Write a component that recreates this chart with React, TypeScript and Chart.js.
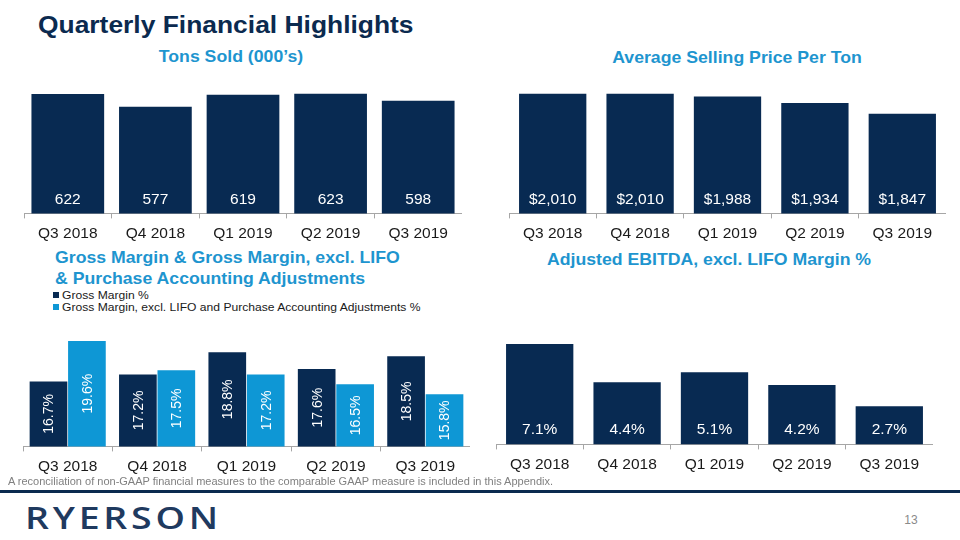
import React, { useEffect, useRef } from "react";
import { Chart, registerables } from "chart.js";

Chart.register(...registerables);

// ---- data ----
const quarters = ["Q3 2018", "Q4 2018", "Q1 2019", "Q2 2019", "Q3 2019"];
const tonsSold = [622, 577, 619, 623, 598];
const avgPrice = [2010, 2010, 1988, 1934, 1847];
const grossMargin = [16.7, 17.2, 18.8, 17.6, 18.5];
const grossMarginExcl = [19.6, 17.5, 17.2, 16.5, 15.8];
const ebitdaMargin = [7.1, 4.4, 5.1, 4.2, 2.7];

const NAVY = "#082a52";
const LIGHT = "#0e97d5";
const TITLE_BLUE = "#1e95cf";
const AXIS_GRAY = "#a6a6a6";
const FONT = "'Liberation Sans', Arial, sans-serif";

const valueLabels = {
  id: "valueLabels",
  afterDatasetsDraw(chart: any, _args: any, opts: any) {
    const ctx = chart.ctx;
    const bottom = chart.chartArea.bottom;
    ctx.save();
    chart.data.datasets.forEach((ds: any, di: number) => {
      const meta = chart.getDatasetMeta(di);
      meta.data.forEach((bar: any, i: number) => {
        const v = ds.data[i];
        const text = opts.format(v);
        const base = Math.min(bar.base, bottom);
        ctx.fillStyle = "#ffffff";
        ctx.font = `${opts.size}px ${FONT}`;
        ctx.textAlign = "center";
        ctx.textBaseline = "middle";
        if (opts.rotate) {
          const cy = (bar.y + base) / 2;
          ctx.save();
          ctx.translate(bar.x, cy);
          ctx.rotate(-Math.PI / 2);
          ctx.fillText(text, 0, 1);
          ctx.restore();
        } else {
          ctx.fillText(text, bar.x, base - opts.offset);
        }
      });
    });
    ctx.restore();
  },
};

type BarProps = {
  left: number;
  top: number;
  width: number;
  height: number;
  datasets: { data: number[]; color: string }[];
  min: number;
  max: number;
  catPct: number;
  barPct: number;
  format: (v: number) => string;
  rotate?: boolean;
  labelSize: number;
  offset: number;
};

function BarChart(p: BarProps) {
  const ref = useRef<HTMLCanvasElement>(null);
  useEffect(() => {
    const chart = new Chart(ref.current as HTMLCanvasElement, {
      type: "bar",
      data: {
        labels: quarters,
        datasets: p.datasets.map((d) => ({
          data: d.data,
          backgroundColor: d.color,
          borderWidth: 0,
          categoryPercentage: p.catPct,
          barPercentage: p.barPct,
        })),
      },
      options: {
        responsive: false,
        animation: false,
        layout: { padding: 0 },
        plugins: {
          legend: { display: false },
          tooltip: { enabled: false },
          valueLabels: {
            format: p.format,
            rotate: p.rotate,
            size: p.labelSize,
            offset: p.offset,
          },
        } as any,
        scales: {
          x: {
            offset: true,
            grid: {
              display: true,
              drawOnChartArea: false,
              drawTicks: true,
              tickLength: 5,
              color: AXIS_GRAY,
              offset: true,
            },
            border: { display: true, color: AXIS_GRAY, width: 1 },
            ticks: {
              color: "#1a1a1a",
              font: { family: FONT, size: 15.5 },
              padding: 6,
              maxRotation: 0,
            },
          },
          y: { display: false, min: p.min, max: p.max },
        },
      },
      plugins: [valueLabels as any],
    });
    return () => chart.destroy();
  }, []);
  return (
    <canvas
      ref={ref}
      width={p.width}
      height={p.height}
      style={{
        position: "absolute",
        left: p.left,
        top: p.top,
        width: p.width,
        height: p.height,
      }}
    />
  );
}

function Text(props: {
  x: number;
  y: number;
  size: number;
  color: string;
  bold?: boolean;
  align?: "center" | "left";
  scale?: number;
  family?: string;
  children: React.ReactNode;
  weight?: number;
  spacing?: number;
}) {
  const s = props.scale ?? 1;
  const center = props.align !== "left";
  return (
    <div
      style={{
        position: "absolute",
        left: props.x,
        top: props.y,
        fontFamily: props.family ?? FONT,
        fontSize: props.size,
        fontWeight: props.weight ?? (props.bold ? 700 : 400),
        color: props.color,
        whiteSpace: "nowrap",
        lineHeight: 1,
        letterSpacing: props.spacing ?? 0,
        transformOrigin: center ? "50% 50%" : "0% 50%",
        transform: center
          ? `translate(-50%, -50%) scaleX(${s})`
          : `translate(0, -50%) scaleX(${s})`,
      }}
    >
      {props.children}
    </div>
  );
}

export default function App() {
  const pct = (v: number) => v.toFixed(1) + "%";
  return (
    <div
      style={{
        position: "absolute",
        left: 0,
        top: 0,
        width: 960,
        height: 540,
        overflow: "hidden",
        background: "#ffffff",
        fontFamily: FONT,
      }}
    >
      <Text x={38} y={25} size={24} color="#0b2a4f" bold align="left" scale={1.1}>
        Quarterly Financial Highlights
      </Text>
      <Text x={231} y={56} size={17} color={TITLE_BLUE} bold scale={1.04}>
        Tons Sold (000’s)
      </Text>
      <Text x={737} y={57} size={17} color={TITLE_BLUE} bold scale={1.04}>
        Average Selling Price Per Ton
      </Text>
      <Text x={55} y={257} size={17} color={TITLE_BLUE} bold align="left" scale={1.04}>
        Gross Margin &amp; Gross Margin, excl. LIFO
      </Text>
      <Text x={55} y={278} size={17} color={TITLE_BLUE} bold align="left" scale={1.04}>
        &amp; Purchase Accounting Adjustments
      </Text>
      <Text x={709} y={259} size={17} color={TITLE_BLUE} bold scale={1.04}>
        Adjusted EBITDA, excl. LIFO Margin %
      </Text>

      {/* legend for gross margin chart */}
      <div style={{ position: "absolute", left: 53, top: 292, width: 6, height: 6, background: NAVY }} />
      <div style={{ position: "absolute", left: 53, top: 304, width: 6, height: 6, background: LIGHT }} />
      <Text x={62} y={295} size={11} color="#1a1a1a" align="left" scale={1.1}>
        Gross Margin %
      </Text>
      <Text x={62} y={307} size={11} color="#1a1a1a" align="left" scale={1.1}>
        Gross Margin, excl. LIFO and Purchase Accounting Adjustments %
      </Text>

      <BarChart
        left={24}
        top={88}
        width={438}
        height={161}
        datasets={[{ data: tonsSold, color: NAVY }]}
        min={200}
        max={643}
        catPct={0.83}
        barPct={1}
        format={(v) => String(v)}
        labelSize={15.5}
        offset={14}
      />
      <BarChart
        left={509}
        top={88}
        width={437}
        height={161}
        datasets={[{ data: avgPrice, color: NAVY }]}
        min={1026}
        max={2058}
        catPct={0.77}
        barPct={1}
        format={(v) => "$" + v.toLocaleString("en-US")}
        labelSize={15.5}
        offset={14}
      />
      <BarChart
        left={23}
        top={325}
        width={447}
        height={157}
        datasets={[
          { data: grossMargin, color: NAVY },
          { data: grossMarginExcl, color: LIGHT },
        ]}
        min={12.07}
        max={20.74}
        catPct={0.86}
        barPct={0.98}
        format={pct}
        rotate
        labelSize={14}
        offset={0}
      />
      <BarChart
        left={496}
        top={325}
        width={437}
        height={155}
        datasets={[{ data: ebitdaMargin, color: NAVY }]}
        min={0}
        max={8.45}
        catPct={0.77}
        barPct={1}
        format={pct}
        labelSize={15.5}
        offset={15}
      />

      <Text x={8} y={481} size={11} color="#808080" align="left" family="'Liberation Sans Narrow', 'Liberation Sans', Arial, sans-serif">
        A reconciliation of non-GAAP financial measures to the comparable GAAP measure is included in this Appendix.
      </Text>
      <div style={{ position: "absolute", left: 0, top: 490, width: 960, height: 3, background: "#0b2a4f" }} />
      <Text x={25} y={518} size={30} color="#1f3a5f" align="left" family="'Open Sans', sans-serif" weight={600} scale={1.25} spacing={3}>
        RYERSON
      </Text>
      <Text x={911} y={520} size={12} color="#8a8a8a" family="'Liberation Sans Narrow', 'Liberation Sans', Arial, sans-serif">
        13
      </Text>
    </div>
  );
}
